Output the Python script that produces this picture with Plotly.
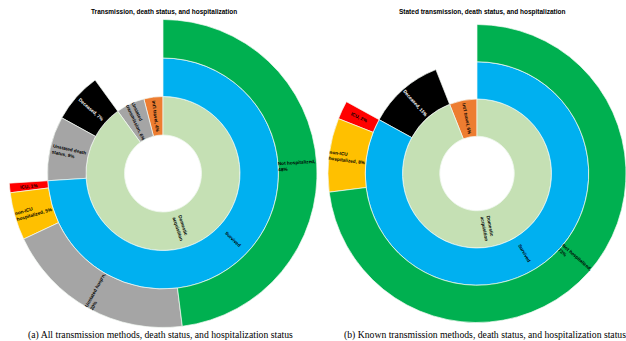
import math
import plotly.graph_objects as go

# ---------------- data (listed clockwise from 12 o'clock) ----------------
# (a) all transmission methods
a_ids = ["root", "dom", "unst_tr", "intl", "surv", "unst_death", "dec",
         "nothosp", "unst_hosp", "nonicu", "icu"]
a_parents = ["", "root", "root", "root", "dom", "dom", "dom",
             "surv", "surv", "surv", "surv"]
a_values = [100, 90, 6, 4, 74, 9, 7, 48, 20, 5, 1]
a_text = ["", "Domestic<br>acquisition", "Unstated<br>transmission, 6%", "Int'l travel, 4%",
          "Survived", "Unstated death<br>status, 9%", "Deceased, 7%",
          "Not hospitalized,<br>48%", "Unstated hosp'n,<br>20%", "non-ICU<br>hospitalized, 5%",
          "ICU, 1%"]

# (b) known transmission methods
b_ids = ["root", "dom", "intl", "surv", "dec", "nothosp", "nonicu", "icu"]
b_parents = ["", "root", "root", "dom", "dom", "surv", "surv", "surv"]
b_values = [100, 94, 6, 83, 11, 73, 8, 2]
b_text = ["", "Domestic<br>acquisition", "Int'l travel, 6%", "Survived", "Deceased, 11%",
          "Not hospitalized,<br>73%", "non-ICU<br>hospitalized, 8%", "ICU, 2%"]

titles = ["Transmission, death status, and hospitalization",
          "Stated transmission, death status, and hospitalization"]
captions = ["(a) All transmission methods, death status, and hospitalization status",
            "(b) Known transmission methods, death status, and hospitalization status"]

# ---------------- styles ----------------
COL = {"root": "#FFFFFF", "intl": "#ED7D31", "unst_tr": "#A5A5A5", "dom": "#C5E0B4",
       "dec": "#000000", "unst_death": "#A5A5A5", "surv": "#00B0F0",
       "icu": "#FF0000", "nonicu": "#FFC000", "unst_hosp": "#A5A5A5", "nothosp": "#00B050"}

W, H = 626, 341
CY = 173.5  # chart centre, px from top


def make_trace(ids, parents, values, domain):
    # plotly draws siblings counter-clockwise, so feed them reversed
    return go.Sunburst(
        ids=ids[::-1], labels=ids[::-1], parents=parents[::-1], values=values[::-1],
        branchvalues="total", sort=False, rotation=90, textinfo="none",
        marker=dict(colors=[COL[i] for i in ids[::-1]], line=dict(color="#F4F9F4", width=0.7)),
        leaf=dict(opacity=1), domain=domain, hoverinfo="skip",
    )


def label_annotations(fig, ids, parents, values, text, cx, r):
    total = values[0]
    start, used, depth = {}, {}, {}
    for i, p in zip(ids, parents):
        if p == "":
            start[i], depth[i] = 0.0, 0
        else:
            start[i] = start[p] + used.get(p, 0.0)
            depth[i] = depth[p] + 1
        used[i] = 0.0
        if p:
            used[p] += values[ids.index(i)] / total * 360
    for i, v, t in zip(ids, values, text):
        if not t:
            continue
        th = start[i] + v / total * 180
        rc = (depth[i] + 0.5) * r / 4
        x = cx + rc * math.sin(math.radians(th))
        y = CY - rc * math.cos(math.radians(th))
        ang = th - 90 if th < 180 else th - 270
        fig.add_annotation(x=x / W, y=1 - y / H, xref="paper", yref="paper", text="<b>" + t + "</b>",
                           textangle=ang, showarrow=False, xanchor="center", yanchor="middle",
                           align="left",
                           font=dict(family="Liberation Sans", size=4.7,
                                     color="#FFFFFF" if i == "dec" else "#000000"))


fig = go.Figure()
rA, cxA = 154, 163
fig.add_trace(make_trace(a_ids, a_parents, a_values,
                         dict(x=[(cxA - rA) / W, (cxA + rA) / W],
                              y=[1 - (CY + rA) / H, 1 - (CY - rA) / H])))
x0B = 328
rB = (W - x0B) / 2
cxB = (W + x0B) / 2
fig.add_trace(make_trace(b_ids, b_parents, b_values,
                         dict(x=[x0B / W, 1], y=[1 - (CY + 154) / H, 1 - (CY - 154) / H])))

label_annotations(fig, a_ids, a_parents, a_values, a_text, cxA, rA)
label_annotations(fig, b_ids, b_parents, b_values, b_text, cxB, rB)

for xc, t in zip([164, 482], titles):
    fig.add_annotation(x=xc / W, y=1 - 12.5 / H, xref="paper", yref="paper", text="<b>" + t + "</b>",
                       showarrow=False, xanchor="center", yanchor="middle",
                       font=dict(family="Liberation Sans", size=6.5, color="#000"))
for xc, c in zip([160, 485], captions):
    fig.add_annotation(x=xc / W, y=1 - 335 / H, xref="paper", yref="paper", text=c,
                       showarrow=False, xanchor="center", yanchor="middle",
                       font=dict(family="Liberation Serif", size=9.7, color="#000"))

fig.update_layout(width=W, height=H, margin=dict(l=0, r=0, t=0, b=0),
                  paper_bgcolor="white", plot_bgcolor="white", showlegend=False)
fig.write_html("out.html")
